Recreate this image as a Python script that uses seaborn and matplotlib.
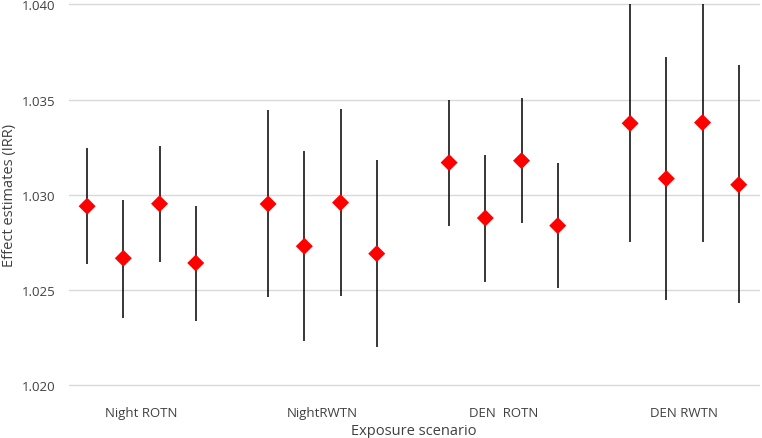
import numpy as np
import pandas as pd
import matplotlib
matplotlib.use("Agg")
import matplotlib.pyplot as plt
import seaborn as sns

# exposure scenarios (x categories) and 4 estimates per scenario
scenarios = ["Night ROTN", "NightRWTN", "DEN  ROTN", "DEN RWTN"]
models = ["m1", "m2", "m3", "m4"]

irr = [
    [1.02940, 1.02667, 1.02953, 1.02642],
    [1.02952, 1.02730, 1.02959, 1.02691],
    [1.03169, 1.02878, 1.03179, 1.02838],
    [1.03375, 1.03085, 1.03379, 1.03053],
]
ci_low = [
    [1.02635, 1.02355, 1.02649, 1.02338],
    [1.02464, 1.02233, 1.02467, 1.02201],
    [1.02838, 1.02541, 1.02852, 1.02511],
    [1.02751, 1.02449, 1.02754, 1.02430],
]
ci_high = [
    [1.03244, 1.02974, 1.03258, 1.02943],
    [1.03445, 1.03228, 1.03450, 1.03181],
    [1.03496, 1.03211, 1.03507, 1.03167],
    [1.04010, 1.03722, 1.04010, 1.03680],
]

rows = []
for i, sc in enumerate(scenarios):
    for j, m in enumerate(models):
        rows.append({"scenario": sc, "model": m, "irr": irr[i][j],
                     "lo": ci_low[i][j], "hi": ci_high[i][j],
                     "x": i + (j - 1.5) * 0.2})
df = pd.DataFrame(rows)

sns.set_theme(style="white")
plt.rcParams["font.family"] = ["Open Sans", "DejaVu Sans"]

fig = plt.figure(figsize=(7.62, 4.39), dpi=100)
ax = fig.add_axes([0.0906, 0.120, 0.905, 0.868])

ax.vlines(df["x"], df["lo"], df["hi"], color="black", linewidth=1.1, zorder=2)
sns.scatterplot(data=df, x="x", y="irr", marker="D", color="#ff0000",
                edgecolor="none", s=75, zorder=3, legend=False, ax=ax)

ax.set_ylim(1.020, 1.040)
ax.set_yticks(np.arange(1.020, 1.0401, 0.005))
ax.set_yticklabels([f"{v:.3f}" for v in np.arange(1.020, 1.0401, 0.005)])
ax.set_xlim(-0.40, 3.41)
ax.set_xticks(range(len(scenarios)))
ax.set_xticklabels(scenarios)

ax.grid(axis="y", color="#d9d9d9", linewidth=1.0, zorder=0)
for gl in ax.get_ygridlines():
    gl.set_clip_on(False)
ax.set_axisbelow(True)
for s in ax.spines.values():
    s.set_visible(False)
ax.tick_params(axis="both", length=0, labelsize=9.5, colors="#404040")
ax.tick_params(axis="y", pad=10)
ax.tick_params(axis="x", pad=15)

ax.set_xlabel("Exposure scenario", fontsize=10.5, color="#404040", labelpad=3)
ax.set_ylabel("Effect estimates (IRR)", fontsize=10.5, color="#404040", labelpad=3)

fig.savefig("out.png", dpi=100)
